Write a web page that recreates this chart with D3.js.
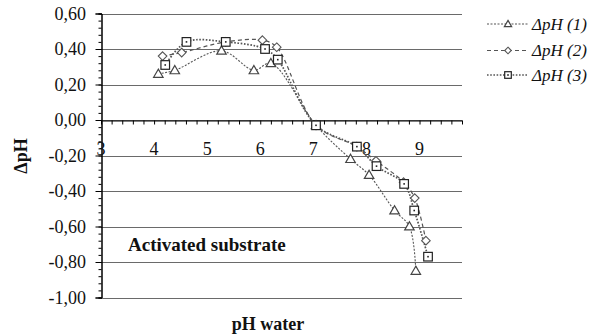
<!DOCTYPE html>
<html>
<head>
<meta charset="utf-8">
<script src="https://cdn.jsdelivr.net/npm/d3@7"></script>
<style>
  html, body { margin: 0; padding: 0; background: #fff; }
  svg { display: block; }
</style>
</head>
<body>
<svg id="chart" width="595" height="335"></svg>
<script>
// pH of water (x) against ΔpH for three runs on the activated substrate
const seriesNames = ["ΔpH (1)", "ΔpH (2)", "ΔpH (3)"];
const phWater1 = [4.08, 4.39, 5.27, 5.88, 6.20, 7.05, 7.70, 8.05, 8.53, 8.81, 8.93];
const deltaPh1 = [0.26, 0.28, 0.39, 0.28, 0.32, -0.03, -0.22, -0.31, -0.51, -0.60, -0.85];
const phWater2 = [4.16, 4.52, 5.35, 6.04, 6.31, 7.05, 7.82, 8.18, 8.70, 8.91, 9.12];
const deltaPh2 = [0.36, 0.38, 0.44, 0.45, 0.41, -0.03, -0.15, -0.23, -0.35, -0.44, -0.68];
const phWater3 = [4.21, 4.61, 5.35, 6.09, 6.33, 7.05, 7.82, 8.19, 8.71, 8.90, 9.16];
const deltaPh3 = [0.31, 0.44, 0.44, 0.40, 0.34, -0.03, -0.15, -0.26, -0.36, -0.51, -0.77];
const xTicks = [3, 4, 5, 6, 7, 8, 9];
const yTicks = [0.6, 0.4, 0.2, 0, -0.2, -0.4, -0.6, -0.8, -1.0];

const FONT = "'Liberation Serif', Tinos, 'Times New Roman', 'DejaVu Serif', serif";

const svg = d3.select("#chart");
const plotLeft = 101, plotRight = 462, plotTop = 13.5, plotBottom = 297.5;

const x = d3.scaleLinear().domain([3, 9.8]).range([plotLeft, plotRight]);
const y = d3.scaleLinear().domain([-1, 0.6]).range([plotBottom, plotTop]);

const fmt = v => d3.format(".2f")(v).replace(".", ",").replace("−", "-");

// horizontal gridlines
svg.append("g").selectAll("line").data(yTicks).join("line")
  .attr("x1", plotLeft).attr("x2", plotRight)
  .attr("y1", d => Math.round(y(d)) + 0.5).attr("y2", d => Math.round(y(d)) + 0.5)
  .attr("stroke", "#6a6a6a").attr("stroke-width", 1);

// y axis with minor ticks
const yMinor = d3.range(-1, 0.6001, 0.04);
const yAxis = svg.append("g").attr("transform", `translate(${plotLeft + 0.5},0)`);
yAxis.call(d3.axisLeft(y).tickValues(yMinor).tickSize(3).tickFormat(""));
yAxis.append("g").call(d3.axisLeft(y).tickValues(yTicks).tickSize(6).tickFormat(""));
yAxis.selectAll("path.domain").attr("stroke", "#000");
yAxis.selectAll("line").attr("stroke", "#000");

// y tick labels
svg.append("g").selectAll("text").data(yTicks).join("text")
  .attr("x", 86).attr("y", d => y(d) + 6)
  .attr("text-anchor", "end").attr("font-size", 18)
  .attr("font-family", FONT).attr("fill", "#111")
  .text(d => fmt(d));

// x axis along zero with minor ticks
const xMinor = d3.range(3, 9.8001, 0.2);
const xAxis = svg.append("g").attr("transform", `translate(0,${Math.round(y(0)) + 0.5})`);
xAxis.call(d3.axisBottom(x).tickValues(xMinor).tickSize(4).tickFormat("").tickSizeOuter(0));
xAxis.selectAll("path.domain").attr("stroke", "#000");
xAxis.selectAll("line").attr("stroke", "#000");

// x tick labels
svg.append("g").selectAll("text").data(xTicks).join("text")
  .attr("x", d => x(d)).attr("y", 155)
  .attr("text-anchor", "middle").attr("font-size", 18)
  .attr("font-family", FONT).attr("fill", "#111")
  .text(d => d);

// series
const series = [
  { xs: phWater1, ys: deltaPh1, dash: "2,1.5", width: 1.1, marker: "triangle" },
  { xs: phWater2, ys: deltaPh2, dash: "4,3", width: 1.2, marker: "diamond" },
  { xs: phWater3, ys: deltaPh3, dash: "1.6,1.6", width: 1.7, marker: "square" }
];

const line = d3.line().x(d => x(d[0])).y(d => y(d[1])).curve(d3.curveCatmullRom.alpha(0.5));

function drawMarker(g, kind, cx, cy, r) {
  if (kind === "triangle") {
    g.append("path")
      .attr("d", `M${cx},${cy - r * 1.1}L${cx + r * 1.1},${cy + r * 0.8}L${cx - r * 1.1},${cy + r * 0.8}Z`)
      .attr("fill", "#fff").attr("stroke", "#444").attr("stroke-width", 1.2);
  } else if (kind === "diamond") {
    g.append("path")
      .attr("d", `M${cx},${cy - r}L${cx + r},${cy}L${cx},${cy + r}L${cx - r},${cy}Z`)
      .attr("fill", "#fff").attr("stroke", "#555").attr("stroke-width", 1.1);
  } else {
    g.append("rect")
      .attr("x", cx - r).attr("y", cy - r).attr("width", 2 * r).attr("height", 2 * r)
      .attr("fill", "#fff").attr("stroke", "#222").attr("stroke-width", 1.2);
    g.append("rect")
      .attr("x", cx - 0.8).attr("y", cy - 0.8).attr("width", 1.6).attr("height", 1.6)
      .attr("fill", "#222");
  }
}

series.forEach(s => {
  const pts = s.xs.map((v, i) => [v, s.ys[i]]);
  svg.append("path").datum(pts)
    .attr("d", line)
    .attr("fill", "none").attr("stroke", "#555")
    .attr("stroke-width", s.width).attr("stroke-dasharray", s.dash);
});
series.forEach(s => {
  const g = svg.append("g");
  s.xs.forEach((v, i) => drawMarker(g, s.marker, x(v), y(s.ys[i]), 4.3));
});

// legend
const legendY = [24, 50.5, 75];
series.forEach((s, i) => {
  const ly = legendY[i];
  svg.append("line").attr("x1", 487).attr("x2", 528).attr("y1", ly).attr("y2", ly)
    .attr("stroke", "#555").attr("stroke-width", s.width).attr("stroke-dasharray", s.dash);
  drawMarker(svg.append("g"), s.marker, 508, ly, 3.3);
  svg.append("text").attr("x", 532).attr("y", ly + 5.5)
    .attr("font-size", 17).attr("font-style", "italic")
    .attr("font-family", FONT).attr("fill", "#111")
    .text(seriesNames[i]);
});

// annotations and axis titles
svg.append("text").attr("x", 128).attr("y", 251)
  .attr("font-size", 19).attr("font-weight", "bold")
  .attr("font-family", FONT).attr("fill", "#111")
  .text("Activated substrate");

svg.append("text").attr("x", 268).attr("y", 330)
  .attr("text-anchor", "middle").attr("font-size", 18).attr("font-weight", "bold")
  .attr("font-family", FONT).attr("fill", "#111")
  .text("pH water");

svg.append("text")
  .attr("transform", "translate(27,156) rotate(-90)")
  .attr("text-anchor", "middle").attr("font-size", 18).attr("font-weight", "bold")
  .attr("font-family", FONT).attr("fill", "#111")
  .text("ΔpH");
</script>
</body>
</html>
